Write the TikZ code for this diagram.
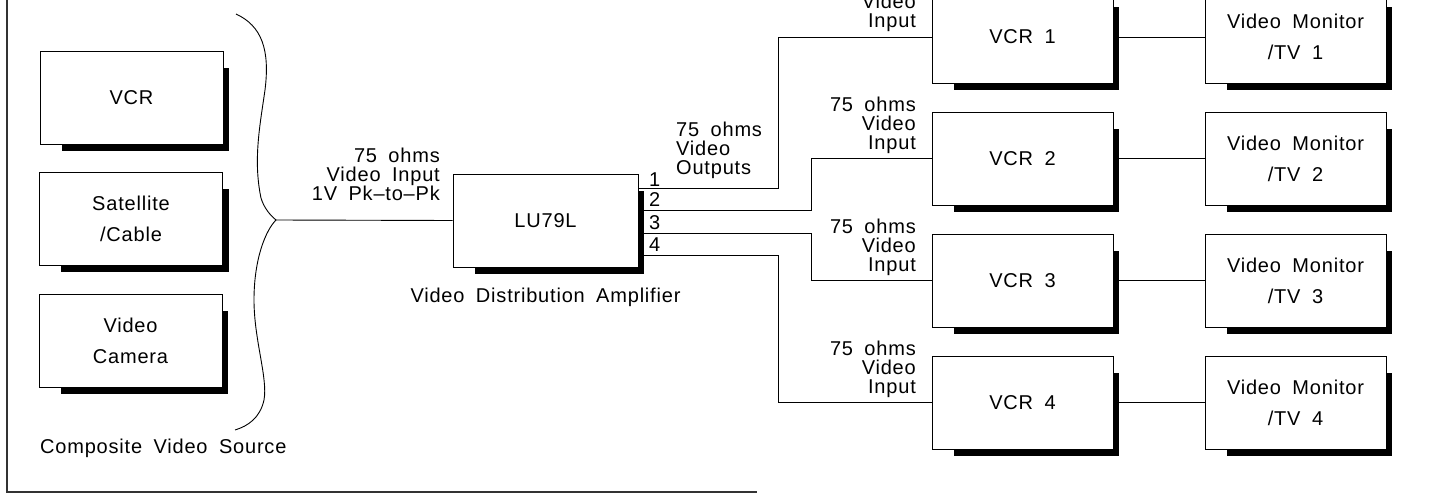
\documentclass[tikz,border=0pt]{standalone}
\usepackage{fontspec}
\setmainfont{Liberation Sans}[LetterSpace=4, WordSpace=1.8]
\usetikzlibrary{backgrounds}
\begin{document}
\begin{tikzpicture}[x=1pt,y=-1pt,
  box/.style={draw, line width=0.9pt, fill=white, minimum width=183pt, minimum height=93pt, inner sep=0pt,
     font=\fontsize{20}{31}\selectfont, align=center},
  lbl/.style={font=\fontsize{20}{19}\selectfont, inner sep=0pt},
  wire/.style={line width=0.9pt},
  frame/.style={line width=1.8pt, black!80},
  shadowfill/.style={fill=black}
]
\useasboundingbox (0,0) rectangle (1431,495);
\clip (0,0) rectangle (1431,495);

% sources
\node[box] (s1) at (131.5,97.5) {VCR};
\node[box] (s2) at (131,219) {Satellite\\/Cable};
\node[box] (s3) at (130.5,341) {Video\\Camera};
\node[lbl, anchor=west] (srclbl) at (40,448) {Composite Video Source};

% brace
\coordinate (btop) at (236,14);
\coordinate (tip) at (276,220);
\coordinate (bbot) at (235,430);
\draw[wire] (btop) .. controls (262,26) and (270,50) .. (265,90)
  .. controls (260,125) and (253,160) .. (261,198)
  .. controls (264,208) and (270,215) .. (tip)
  .. controls (266,230) and (254,258) .. (254,300)
  .. controls (254,340) and (268,378) .. (264,400)
  .. controls (260,418) and (248,426) .. (bbot);

% amplifier
\node[box, minimum width=185pt] (amp) at (545.5,220.5) {LU79L};
\node[lbl] (amplbl) at (545.5,297) {Video Distribution Amplifier};
\node[lbl, anchor=east, align=right] (inlbl) at (440,174) {75 ohms\\Video Input\\1V Pk--to--Pk};
\draw[wire] (tip) -- (amp.west);

\node[lbl, anchor=west, align=left] (outlbl) at (676,150) {75 ohms\\Video\\Outputs};

% vcrs and monitors
\foreach \i/\y in {1/37,2/158.5,3/280.5,4/402.5}{
  \node[box, minimum width=181pt] (vcr\i) at (1022.5,\y) {VCR \i};
  \node[box, minimum width=181pt] (mon\i) at (1295.5,\y) {Video Monitor\\/TV \i};
  \node[lbl, anchor=east, align=right] (in\i) at (916,\y-33.5) {75 ohms\\Video\\Input};
  \draw[wire] (vcr\i.east) -- (mon\i.west);
}

% shadows
\begin{scope}[on background layer]
\foreach \n in {s1,s2,s3,amp,vcr1,vcr2,vcr3,vcr4,mon1,mon2,mon3,mon4}{
  \fill[shadowfill] ([xshift=22pt,yshift=-6.5pt]\n.south west) rectangle ([xshift=6pt,yshift=-17pt]\n.north east);
}
\end{scope}

% outputs
\path (amp.east) ++(0,-32.5) coordinate (p1) ++(0,22) coordinate (p2) ++(0,23) coordinate (p3) ++(0,22) coordinate (p4);
\draw[wire] (p1) -- ++(140,0) |- (vcr1.west);
\draw[wire] (p2) -- ++(173,0) |- (vcr2.west);
\draw[wire] (p3) -- ++(173,0) |- (vcr3.west);
\draw[wire] (p4) -- ++(140,0) |- (vcr4.west);
\node[lbl, anchor=west] (n1) at (649,180) {1};
\node[lbl, anchor=west] (n2) at (649,200) {2};
\node[lbl, anchor=west] (n3) at (649,223) {3};
\node[lbl, anchor=west] (n4) at (649,245) {4};

% frame
\coordinate (ftop) at (7,-2);
\coordinate (fcorner) at (7,492);
\coordinate (fend) at (757,492);
\draw[frame] (ftop) -- (fcorner) -- (fend);
\end{tikzpicture}
\end{document}
